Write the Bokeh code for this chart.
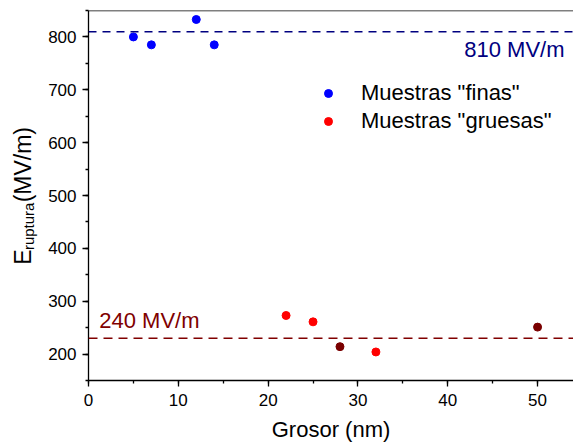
import math
from bokeh.plotting import figure
from bokeh.layouts import row
from bokeh.models import Span, Label, SingleIntervalTicker, Range1d
from bokeh.core.properties import value
from bokeh.embed import file_html
from bokeh.resources import INLINE

# ---- data ----
fine_x = [5, 7, 12, 14]
fine_y = [800, 785, 833, 785]
thick_x = [22, 25, 32]
thick_y = [273, 261, 204]
thick_dark_x = [28, 50]
thick_dark_y = [214, 251]
fine_ref = 810
thick_ref = 230
fine_ref_text = "810 MV/m"
thick_ref_text = "240 MV/m"
legend_fine = 'Muestras "finas"'
legend_thick = 'Muestras "gruesas"'
x_title = "Grosor (nm)"
y_title_main = "E"
y_title_sub = "ruptura"
y_title_unit = "(MV/m)"

FONT = "Liberation Sans"
NAVY = "#000080"
DARK = "#800000"

LEFT_W = 42
p = figure(width=573 - LEFT_W, height=444, output_backend="svg", toolbar_location=None,
           x_range=Range1d(0, 54), y_range=Range1d(150, 850),
           min_border_left=88 - LEFT_W, min_border_right=0, min_border_top=10,
           min_border_bottom=64)
p.grid.visible = False
p.outline_line_color = None
p.background_fill_color = "white"

for ax in (p.xaxis[0], p.yaxis[0]):
    ax.axis_line_color = "black"
    ax.axis_line_width = 1.3
    ax.major_tick_line_color = "black"
    ax.major_tick_line_width = 1.3
    ax.minor_tick_line_color = "black"
    ax.minor_tick_line_width = 1.3
    ax.major_tick_out = 6
    ax.major_tick_in = 0
    ax.minor_tick_out = 3
    ax.minor_tick_in = 0
    ax.major_label_text_font = FONT
    ax.major_label_text_font_size = "17px"
    ax.major_label_text_color = "black"

p.xaxis[0].ticker = SingleIntervalTicker(interval=10, num_minor_ticks=2)
p.yaxis[0].ticker = SingleIntervalTicker(interval=100, num_minor_ticks=2)
p.xaxis[0].major_label_standoff = 7
p.yaxis[0].major_label_standoff = 6
p.xaxis[0].axis_label = x_title
p.xaxis[0].axis_label_text_font = FONT
p.xaxis[0].axis_label_text_font_size = "22px"
p.xaxis[0].axis_label_text_font_style = "normal"
p.xaxis[0].axis_label_text_color = "black"
p.xaxis[0].axis_label_standoff = 8

# top frame line
p.add_layout(Span(location=850, dimension="width", line_color="black", line_width=1.5))

# reference lines
p.add_layout(Span(location=fine_ref, dimension="width", line_color=NAVY,
                  line_width=1.5, line_dash="8 6"))
p.add_layout(Span(location=thick_ref, dimension="width", line_color=DARK,
                  line_width=1.5, line_dash="9 6"))

# points
p.scatter(fine_x, fine_y, size=8, color="#0000FF", legend_label=legend_fine)
p.scatter(thick_x, thick_y, size=8, color="#FF0000", legend_label=legend_thick)
p.scatter(thick_dark_x, thick_dark_y, size=8, color="#7A0000")

# reference labels
p.add_layout(Label(x=53.0, y=777, text=fine_ref_text, text_align="right",
                   text_baseline="middle", text_font=FONT, text_font_size="22px",
                   text_color=NAVY))
p.add_layout(Label(x=1.2, y=264, text=thick_ref_text, text_align="left",
                   text_baseline="middle", text_font=FONT, text_font_size="22px",
                   text_color=DARK))

# legend
lg = p.legend[0]
lg.location = (230, 245)
lg.border_line_color = None
lg.background_fill_alpha = 0
lg.padding = 0
lg.margin = 0
lg.spacing = 0
lg.glyph_width = 20
lg.glyph_height = 28
lg.label_height = 28
lg.label_standoff = 23
lg.label_text_font = FONT
lg.label_text_font_size = "22px"
lg.label_text_color = "black"

# left strip holding the rotated y-axis title E_ruptura(MV/m)
t = figure(width=LEFT_W, height=444, output_backend="svg", toolbar_location=None,
           x_range=Range1d(0, LEFT_W), y_range=Range1d(0, 444),
           x_axis_type=None, y_axis_type=None, title=None,
           min_border_left=0, min_border_right=0, min_border_top=0, min_border_bottom=0)
t.grid.visible = False
t.outline_line_color = None
ang = math.pi / 2
t.text(x=[22.5], y=[148], text=[y_title_main], angle=ang, text_align="center",
       text_baseline="middle", text_font=value(FONT), text_font_size="23px",
       text_color="black")
t.text(x=[28], y=[185], text=[y_title_sub], angle=ang, text_align="center",
       text_baseline="middle", text_font=value(FONT), text_font_size="15px",
       text_color="black")
t.text(x=[22.5], y=[259], text=[y_title_unit], angle=ang, text_align="center",
       text_baseline="middle", text_font=value(FONT), text_font_size="23px",
       text_color="black")

layout = row(t, p, spacing=0)
open("out.html", "w").write(file_html(layout, INLINE))
